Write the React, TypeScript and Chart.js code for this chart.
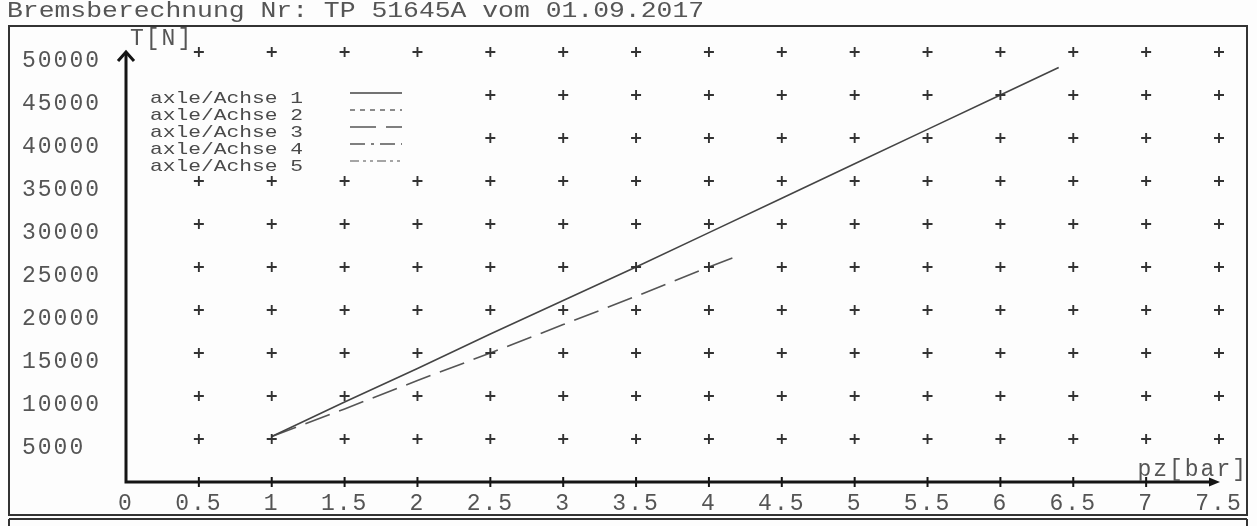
import React, { useEffect, useRef } from "react";
import { Chart, registerables } from "chart.js";

Chart.register(...registerables);

// ---- data ----
const titleText = "Bremsberechnung Nr: TP 51645A vom 01.09.2017";
const yAxisTitle = "T[N]";
const xAxisTitle = "pz[bar]";
const xTickValues = [0, 0.5, 1, 1.5, 2, 2.5, 3, 3.5, 4, 4.5, 5, 5.5, 6, 6.5, 7, 7.5];
const yTickValues = [5000, 10000, 15000, 20000, 25000, 30000, 35000, 40000, 45000, 50000];
const axleLabels = ["axle/Achse 1", "axle/Achse 2", "axle/Achse 3", "axle/Achse 4", "axle/Achse 5"];

const axle1Pz = [1, 1.5, 2, 2.5, 3, 3.5, 4, 4.5, 5, 5.5, 6, 6.4];
const axle1T = [5300, 9300, 13200, 17200, 21100, 25000, 29000, 33000, 37000, 41000, 45000, 48200];

const axle3Pz = [1, 1.5, 2, 2.5, 3, 3.5, 4, 4.2];
const axle3T = [5300, 8500, 11800, 15000, 18300, 21600, 25000, 26300];

const FONT = "'Liberation Mono', 'DejaVu Sans Mono', monospace";

export default function App() {
  const canvasRef = useRef<HTMLCanvasElement | null>(null);

  useEffect(() => {
    if (!canvasRef.current) return;

    const axleDash: number[][] = [[], [5, 5], [26, 10], [15, 6, 3, 6], [9, 4, 3, 4, 3, 4]];
    const axleColor = ["#444", "#666", "#555", "#555", "#888"];

    const crossPoints: { x: number; y: number }[] = [];
    xTickValues.filter((v) => v > 0).forEach((xv) => {
      yTickValues.forEach((yv) => crossPoints.push({ x: xv, y: yv }));
    });

    const seriesFor = (pz: number[], t: number[]) => pz.map((x, i) => ({ x, y: t[i] }));
    const axleData = [
      seriesFor(axle1Pz, axle1T),
      [],
      seriesFor(axle3Pz, axle3T),
      [],
      [],
    ];

    const framePlugin = {
      id: "paperFrame",
      beforeDraw(chart: any) {
        const { ctx, width, height } = chart;
        ctx.save();
        ctx.fillStyle = "#fdfdfd";
        ctx.fillRect(0, 0, width, height);
        ctx.strokeStyle = "#333";
        ctx.lineWidth = 2;
        ctx.strokeRect(9, 26, 1238, 489);
        ctx.beginPath();
        ctx.moveTo(9, 519);
        ctx.lineTo(1247, 519);
        ctx.moveTo(9, 519);
        ctx.lineTo(9, 526);
        ctx.moveTo(1247, 519);
        ctx.lineTo(1247, 526);
        ctx.stroke();
        ctx.restore();
        (ctx as any).letterSpacing = "2px";
      },
    };

    const decorPlugin = {
      id: "decor",
      afterDatasetsDraw(chart: any) {
        const { ctx } = chart;
        const xs = chart.scales.x;
        const ys = chart.scales.y;
        ctx.save();
        (ctx as any).letterSpacing = "0px";

        // legend
        const ds = chart.data.datasets.filter((d: any) => d.isAxle);
        ctx.fillStyle = "#fdfdfd";
        ctx.fillRect(136, 84, 292, 89);
        ds.forEach((d: any, i: number) => {
          const yy = 98 + i * 17;
          ctx.save();
          ctx.translate(150, yy);
          ctx.scale(1.25, 1);
          ctx.font = "17px " + FONT;
          ctx.fillStyle = "#4a4a4a";
          ctx.textBaseline = "middle";
          ctx.fillText(d.label, 0, 0);
          ctx.restore();
          ctx.beginPath();
          ctx.setLineDash(d.borderDash || []);
          ctx.strokeStyle = d.borderColor;
          ctx.lineWidth = 1.6;
          ctx.moveTo(350, yy - 5);
          ctx.lineTo(402, yy - 5);
          ctx.stroke();
        });
        ctx.setLineDash([]);

        // axes
        const x0 = xs.getPixelForValue(0);
        const y0 = ys.getPixelForValue(0);
        const xEnd = xs.getPixelForValue(xTickValues[xTickValues.length - 1]);
        const yEnd = ys.getPixelForValue(yTickValues[yTickValues.length - 1]);
        ctx.strokeStyle = "#151515";
        ctx.fillStyle = "#151515";
        ctx.lineWidth = 3;
        ctx.lineCap = "butt";
        ctx.beginPath();
        ctx.moveTo(x0, y0 + 1.5);
        ctx.lineTo(x0, yEnd + 1);
        ctx.moveTo(x0 - 1.5, y0);
        ctx.lineTo(xEnd - 6, y0);
        ctx.stroke();
        // y arrow
        ctx.beginPath();
        ctx.moveTo(x0 - 8, yEnd + 9);
        ctx.lineTo(x0, yEnd);
        ctx.lineTo(x0 + 8, yEnd + 9);
        ctx.stroke();
        // x arrow
        ctx.beginPath();
        ctx.moveTo(xEnd + 1, y0);
        ctx.lineTo(xEnd - 10, y0 - 4.5);
        ctx.lineTo(xEnd - 10, y0 + 4.5);
        ctx.closePath();
        ctx.fill();
        // x tick marks
        ctx.lineWidth = 2;
        ctx.beginPath();
        xTickValues.slice(1, -1).forEach((v) => {
          const px = xs.getPixelForValue(v);
          ctx.moveTo(px, y0 - 5);
          ctx.lineTo(px, y0 + 5);
        });
        ctx.stroke();

        // axis titles
        (ctx as any).letterSpacing = "2px";
        ctx.font = "23px " + FONT;
        ctx.fillStyle = "#555";
        ctx.textBaseline = "middle";
        ctx.textAlign = "left";
        ctx.fillText(yAxisTitle, x0 + 4, 39);
        ctx.textAlign = "right";
        ctx.textBaseline = "alphabetic";
        ctx.fillText(xAxisTitle, 1248, y0 - 6);
        ctx.restore();
        (ctx as any).letterSpacing = "2px";
      },
    };

    const datasets: any[] = [
      {
        label: "grid",
        data: crossPoints,
        showLine: false,
        pointStyle: "cross",
        pointRadius: 5,
        pointBorderWidth: 1.9,
        pointBorderColor: "#333",
        borderColor: "#333",
        clip: false,
      },
    ];
    axleLabels.forEach((label, i) => {
      datasets.push({
        label,
        isAxle: true,
        data: axleData[i],
        showLine: true,
        borderColor: axleColor[i],
        borderWidth: 1.6,
        borderDash: axleDash[i],
        pointRadius: 0,
        fill: false,
        clip: false,
      });
    });

    const chart = new Chart(canvasRef.current, {
      type: "scatter",
      data: { datasets },
      options: {
        animation: false,
        responsive: false,
        layout: { padding: { left: 22, top: 52, right: 38, bottom: 0 } },
        plugins: { legend: { display: false }, tooltip: { enabled: false } },
        scales: {
          x: {
            type: "linear",
            min: 0,
            max: 7.5,
            grid: { display: false, drawTicks: false },
            border: { display: false },
            afterBuildTicks: (scale: any) => {
              scale.ticks = xTickValues.map((v) => ({ value: v }));
            },
            afterFit: (scale: any) => {
              scale.height = 44;
            },
            ticks: {
              autoSkip: false,
              maxRotation: 0,
              padding: 8,
              color: "#555",
              font: { family: FONT, size: 23 },
              callback: (v: any) => String(v),
            },
          },
          y: {
            type: "linear",
            min: 0,
            max: 50000,
            grid: { display: false, drawTicks: false },
            border: { display: false },
            afterBuildTicks: (scale: any) => {
              scale.ticks = [0, ...yTickValues].map((v) => ({ value: v }));
            },
            afterFit: (scale: any) => {
              scale.width = 104;
            },
            ticks: {
              autoSkip: false,
              crossAlign: "far",
              padding: 0,
              labelOffset: 9,
              color: "#555",
              font: { family: FONT, size: 23 },
              callback: (v: any) => (yTickValues.includes(v) ? String(v) : ""),
            },
          },
        },
      } as any,
      plugins: [framePlugin, decorPlugin],
    });

    return () => chart.destroy();
  }, []);

  return (
    <div style={{ position: "absolute", left: 0, top: 0, width: 1257, height: 526, overflow: "hidden", background: "#fdfdfd" }}>
      <canvas ref={canvasRef} width={1257} height={526} style={{ position: "absolute", left: 0, top: 0 }} />
      <div
        style={{
          position: "absolute",
          left: 7,
          top: 1,
          fontFamily: FONT,
          fontSize: 22,
          lineHeight: "22px",
          color: "#555",
          whiteSpace: "nowrap",
          transform: "scaleX(1.2)",
          transformOrigin: "left top",
        }}
      >
        {titleText}
      </div>
    </div>
  );
}
